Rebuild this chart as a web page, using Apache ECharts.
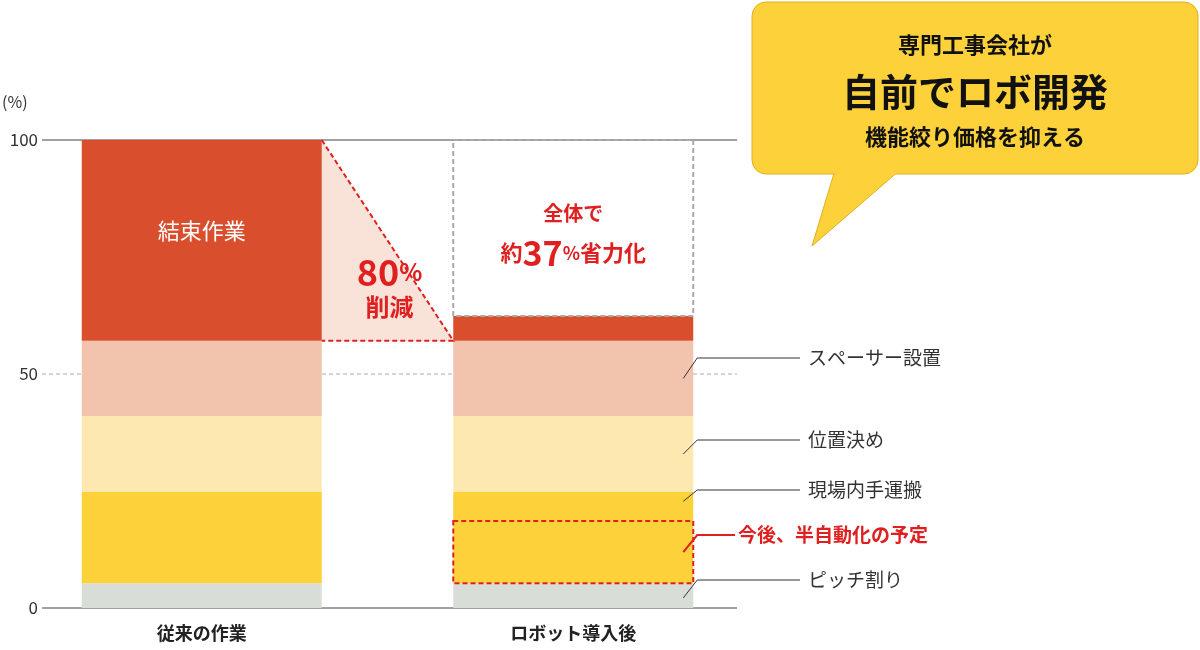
<!DOCTYPE html><html><head><meta charset="utf-8">
<script src="https://cdn.jsdelivr.net/npm/echarts@6/dist/echarts.min.js"></script>
<style>html,body{margin:0;background:#fff}#c{width:1200px;height:650px}</style></head><body><div id="c"></div>
<script>
const categories=['従来の作業','ロボット導入後'];
const pitch=[5.3,5.3];
const handCarry=[19.5,19.5];
const positioning=[16.2,16.2];
const spacer=[16.1,16.1];
const binding=[42.9,5.3];
const yTicks=[0,50,100];
const plannedRange=[5.3,18.6];
const F='"Noto Sans CJK JP","Noto Sans",sans-serif';
const chart=echarts.init(document.getElementById('c'));
const mk=(name,data,color)=>({type:'bar',name,stack:'s',data,barWidth:240,itemStyle:{color},z:2});
chart.setOption({animation:false,
 grid:{left:16,width:743,top:140,bottom:42},
 xAxis:{type:'category',data:categories,axisLine:{show:false},axisTick:{show:false},
  axisLabel:{fontFamily:F,fontWeight:'bold',fontSize:18,color:'#222',margin:16}},
 yAxis:{type:'value',min:0,max:100,interval:50,show:false},
 series:[mk('ピッチ割り',pitch,'#d9ddd8'),mk('現場内手運搬',handCarry,'#fdd13a'),mk('位置決め',positioning,'#fde8b0'),mk('スペーサー設置',spacer,'#f2c4ad'),mk('結束作業',binding,'#d94f2e')]});
const X=c=>chart.convertToPixel({xAxisIndex:0},c), Y=v=>chart.convertToPixel({yAxisIndex:0},v);
const x0=X(categories[0]),x1=X(categories[1]),hw=120;
const cum=i=>pitch[i]+handCarry[i]+positioning[i]+spacer[i];
const tops=[cum(0)+binding[0],cum(1)+binding[1]];
const g=[];
yTicks.forEach(t=>{
 g.push({type:'line',z:0,shape:{x1:42,y1:Y(t),x2:737,y2:Y(t)},style:{stroke:t===50?'#aaa':'#444',lineWidth:t===50?1:1.2,lineDash:t===50?[4,3]:null}});
 g.push({type:'text',x:38,y:Y(t),style:{text:String(t),fontFamily:F,fontSize:17,fill:'#333',align:'right',verticalAlign:'middle'}});
});
g.push({type:'text',x:2,y:102,style:{text:'(%)',fontFamily:F,fontSize:16,fill:'#333',verticalAlign:'middle'}});
g.push({type:'text',x:x0,y:Y(cum(0)+binding[0]/2)-10,z:10,style:{text:'結束作業',fontFamily:F,fontSize:22,fill:'#fff',align:'center',verticalAlign:'middle'}});
// triangle
const tx=x0+hw,txe=x1-hw;
g.push({type:'polygon',z:1,shape:{points:[[tx,Y(100)],[tx,Y(cum(0))],[txe,Y(cum(0))]]},style:{fill:'#f9e2d7'}});
g.push({type:'polyline',z:3,shape:{points:[[tx,Y(100)],[txe,Y(cum(0))],[tx,Y(cum(0))]]},style:{stroke:'#e02020',lineWidth:2,lineDash:[5,3],fill:null}});
g.push({type:'text',x:(tx+txe)/2+2,y:272,z:10,style:{text:'80{s|%}',rich:{s:{fontSize:24,fontWeight:'bold',fill:'#e02020',fontFamily:F}},fontFamily:F,fontWeight:'bold',fontSize:36,fill:'#e02020',align:'center',verticalAlign:'middle'}});
g.push({type:'text',x:(tx+txe)/2+2,y:307,z:10,style:{text:'削減',fontFamily:F,fontWeight:'bold',fontSize:24,fill:'#e02020',align:'center',verticalAlign:'middle'}});
// saved box
g.push({type:'rect',z:3,shape:{x:x1-hw,y:Y(100),width:2*hw,height:Y(tops[1])-Y(100)},style:{fill:null,stroke:'#aaa',lineWidth:2,lineDash:[5,3]}});
g.push({type:'text',x:x1,y:213,z:10,style:{text:'全体で',fontFamily:F,fontWeight:'bold',fontSize:20,fill:'#e02020',align:'center',verticalAlign:'middle'}});
g.push({type:'text',x:x1,y:253,z:10,style:{text:'約{b|37}{p|%}省力化',rich:{b:{fontSize:34,fontWeight:'bold',fill:'#e02020',fontFamily:F},p:{fontSize:18,fontWeight:'bold',fill:'#e02020',fontFamily:F}},fontFamily:F,fontWeight:'bold',fontSize:22,fill:'#e02020',align:'center',verticalAlign:'middle'}});
// planned box
g.push({type:'rect',z:3,shape:{x:x1-hw,y:Y(plannedRange[1]),width:2*hw,height:Y(plannedRange[0])-Y(plannedRange[1])},style:{fill:null,stroke:'#e02020',lineWidth:2,lineDash:[5,3]}});
// leaders
const ex=x1+hw;
const leaders=[['スペーサー設置',cum(1)-spacer[1]/2,358,'#333'],['位置決め',pitch[1]+handCarry[1]+positioning[1]/2,440,'#333'],['現場内手運搬',pitch[1]+handCarry[1]-2,490,'#333'],['今後、半自動化の予定',(plannedRange[0]+plannedRange[1])/2,535,'#e02020'],['ピッチ割り',pitch[1]/2-0.5,580,'#333']];
leaders.forEach(([t,v,ly,c])=>{
 const red=c!=='#333';
 g.push({type:'polyline',z:5,shape:{points:[[ex-10,Y(v)],[ex+4,ly],[red?735:800,ly]]},style:{stroke:c,lineWidth:red?2:1,fill:null}});
 g.push({type:'text',x:red?738:808,y:ly,z:5,style:{text:t,fontFamily:F,fontWeight:red?'bold':'normal',fontSize:19,fill:c,verticalAlign:'middle'}});
});
// bubble
g.push({type:'polygon',z:6,shape:{points:[[835,170],[812,246],[900,170]]},style:{fill:'#fdd13a',stroke:'#e0b020',lineWidth:1}});
g.push({type:'rect',z:6,shape:{x:752,y:2,width:446,height:172,r:14},style:{fill:'#fdd13a',stroke:'#e0b020',lineWidth:1}});
g.push({type:'polygon',z:7,shape:{points:[[836,172],[818,232],[898,172]]},style:{fill:'#fdd13a'}});
[['専門工事会社が',45,22],['自前でロボ開発',92,38],['機能絞り価格を抑える',137,22]].forEach(([t,y,s])=>g.push({type:'text',z:8,x:975,y,style:{text:t,fontFamily:F,fontWeight:'bold',fontSize:s,fill:'#111',align:'center',verticalAlign:'middle'}}));
chart.setOption({graphic:g});
</script></body></html>
